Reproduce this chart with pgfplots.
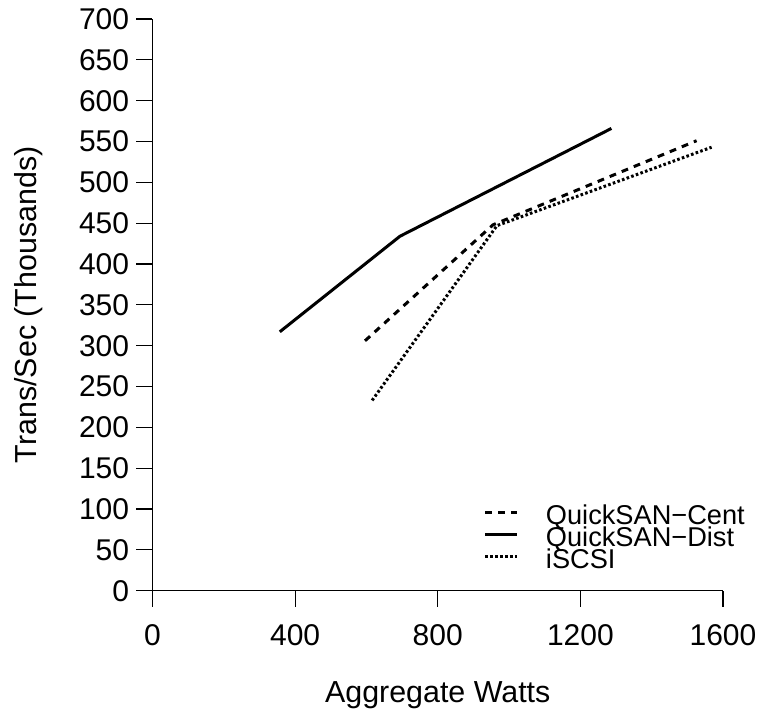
\documentclass[border=0pt]{standalone}
\usepackage{fontspec}
\setmainfont{Liberation Sans}
\usepackage{pgfplots}
\pgfplotsset{compat=1.18}
\begin{document}
\begin{tikzpicture}
\path[use as bounding box] (-76.25pt,-61.15pt) rectangle (305.75pt,295.35pt);
\begin{axis}[
  at={(0pt,0pt)}, anchor=south west,
  scale only axis,
  width=285.25pt, height=285.85pt,
  xmin=0, xmax=1600, ymin=0, ymax=700,
  axis lines=left,
  axis line style={-, line width=0.6pt},
  tick style={line width=0.6pt, black},
  tick align=outside,
  major tick length=8pt,
  xtick={0,400,800,1200,1600},
  ytick={0,50,...,700},
  minor tick num=0,
  /pgf/number format/assume math mode=true,
  /pgf/number format/1000 sep={},
  tick label style={font=\fontsize{15}{18}\selectfont},
  yticklabel style={inner sep=0pt, xshift=-3.5pt},
  xticklabel style={inner sep=0pt, yshift=-8.5pt},
  xlabel={Aggregate Watts},
  ylabel={Trans/Sec (Thousands)},
  every axis x label/.style={at={(axis description cs:0.5,-0.1964)}, anchor=base, font=\fontsize{15.2}{18}\selectfont},
  every axis y label/.style={at={(axis description cs:-0.2025,0.5)}, rotate=90, anchor=base, font=\fontsize{15.2}{18}\selectfont},
  clip=false,
  legend cell align=left,
  legend style={
    at={(rel axis cs:0.581,0.15)}, anchor=north west,
    draw=none, fill=none, inner sep=0pt, outer sep=0pt,
    row sep=0pt,
    font=\fontsize{13.6}{15}\selectfont,
    nodes={inner sep=0pt, text height=9.6pt, text depth=1.6pt},
    /tikz/every odd column/.append style={column sep=13.5pt},
  },
  legend image code/.code={\draw[#1] (0pt,2pt) -- (16pt,2pt);},
]
\addplot[black, line width=1.5pt, dash pattern=on 3.4pt off 3.1pt] coordinates {(596,306) (955,448) (1526,551)};
\addlegendentry{QuickSAN−Cent}
\addplot[black, line width=1.5pt] coordinates {(357,317) (694,434) (1287,566)};
\addlegendentry{QuickSAN−Dist}
\addplot[black, line width=1.5pt, dash pattern=on 1.3pt off 1.15pt] coordinates {(616,233) (966,447) (1568,543)};
\addlegendentry{iSCSI}
\end{axis}
\end{tikzpicture}
\end{document}
